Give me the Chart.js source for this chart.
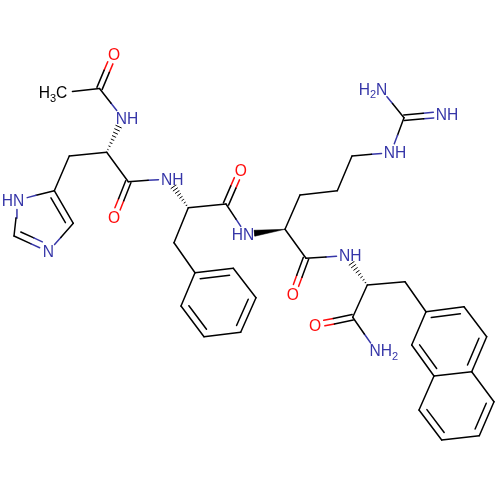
<!DOCTYPE html>
<html>
<head>
<meta charset="utf-8">
<style>
  html, body { margin: 0; padding: 0; background: #fff; }
  canvas { display: block; }
</style>
<script src="https://cdn.jsdelivr.net/npm/chart.js@4"></script>
</head>
<body>
<canvas id="myChart" width="500" height="500"></canvas>
<script>
// Atom positions
const atomElement = ["C","C","O","N","C","C","C","O","N","C","C","N","C","N","C","C","O","C","C","C","C","C","C","C","N","C","C","O","C","C","C","N","C","N","N","N","C","C","O","N","C","C","C","C","C","C","C","C","C","C","C"];
const atomX = [63,99.5,114,122.6,106.7,69.3,128.3,114,168,54.3,73.3,48.3,14,18,188.3,226,240.7,174,195,233.3,256,240.7,204,181,246,285,306,292.7,300,337.3,352,391,404,381,443,346,367.3,352.7,315,376,405,426,464,486.7,471.7,434,411.7,494,479.3,441.7,419];
const atomY = [92.6,88.5,54,118,152.3,156,181.7,217.7,179,190.7,223.3,251.7,236,200,207.7,204,170,242.7,272.7,268.3,297.7,332.3,336.7,306,234.3,229.3,258.3,294.3,195,190.7,156,152.7,117.7,89.3,114.3,255.7,285,317.3,325,350.7,281.7,311.7,306.7,336.7,371.7,376,345,401.7,435.7,440,410];

// Bonds. Kind: 1 single, 2 double, 3 double inside a ring, 4 wedge, 5 hashed wedge
const bondFrom = [0,1,1,4,4,4,5,6,6,9,10,11,12,13,14,14,14,15,15,17,18,19,20,21,22,23,25,25,25,26,26,28,29,30,31,32,32,36,36,36,37,37,40,41,42,43,44,45,46,44,47,48,49,50];
const bondTo   = [1,2,3,3,5,6,9,7,8,10,11,12,13,9,8,15,17,16,24,18,19,20,21,22,23,18,24,26,28,27,35,29,30,31,32,33,34,35,37,40,38,39,41,42,43,44,45,46,41,47,48,49,50,45];
const bondKind = [1,2,1,5,1,1,1,2,1,3,1,3,1,1,5,1,1,2,1,1,3,1,3,1,3,1,4,1,1,2,1,1,1,1,1,1,2,5,1,1,2,1,1,3,1,3,1,3,1,1,3,1,3,1];

const rings = [[9,10,11,12,13],[18,19,20,21,22,23],[41,42,43,44,45,46],[44,47,48,49,50,45]];

// Text labels
const labelText = ["H_3C","O","NH","O","NH","HN","N","O","HN","O","NH","H_2N","NH","NH","O","NH_2"];
const labelX = [53,114,127,114,172.2,13,48.3,240.7,243,292.7,395,373,447,350.2,315,383.8];
const labelY = [92.7,54,118,217.7,179,200,251.7,170,234.3,294.3,152.7,89.3,114.3,255.7,325,350.7];

const elementColor = { C: "#000000", N: "#3636a8", O: "#ff0d0d" };
const lineW = 1.5;
const gap = 9.5;

const datasets = [];

function addLine(points, color, width) {
  datasets.push({
    data: points,
    showLine: true,
    borderColor: color,
    borderWidth: width,
    borderCapStyle: "round",
    pointRadius: 0,
    tension: 0,
  });
}

// one line, half in each atom's colour, pulled back from labelled atoms
function addBond(ax, ay, bx, by, ea, eb, shorten) {
  const len = Math.hypot(bx - ax, by - ay);
  const ux = (bx - ax) / len;
  const uy = (by - ay) / len;
  const ta = Math.max(ea === "C" ? 0 : gap, shorten);
  const tb = Math.max(eb === "C" ? 0 : gap, shorten);
  const mid = { x: (ax + bx) / 2, y: (ay + by) / 2 };
  const start = { x: ax + ux * ta, y: ay + uy * ta };
  const end = { x: bx - ux * tb, y: by - uy * tb };
  if (ea === eb) {
    addLine([start, end], elementColor[ea], lineW);
  } else {
    addLine([start, mid], elementColor[ea], lineW);
    addLine([mid, end], elementColor[eb], lineW);
  }
}

bondFrom.forEach((a, i) => {
  const b = bondTo[i];
  const kind = bondKind[i];
  const ax = atomX[a], ay = atomY[a], bx = atomX[b], by = atomY[b];
  const len = Math.hypot(bx - ax, by - ay);
  const nx = -(by - ay) / len;
  const ny = (bx - ax) / len;
  if (kind === 1) {
    if (a === 0) {
      // methyl label: the bond stops short of the C
      const t = gap / len;
      addLine([{ x: ax + (bx - ax) * t, y: ay + (by - ay) * t }, { x: bx, y: by }], "#000000", lineW);
    } else {
      addBond(ax, ay, bx, by, atomElement[a], atomElement[b], 0);
    }
  } else if (kind === 2) {
    [-2.8, 2.8].forEach((d) => {
      addBond(ax + nx * d, ay + ny * d, bx + nx * d, by + ny * d, atomElement[a], atomElement[b], 0);
    });
  } else if (kind === 3) {
    addBond(ax, ay, bx, by, atomElement[a], atomElement[b], 0);
    const ring = rings.find((r) => r.includes(a) && r.includes(b));
    const cx = ring.reduce((s, k) => s + atomX[k], 0) / ring.length;
    const cy = ring.reduce((s, k) => s + atomY[k], 0) / ring.length;
    const side = nx * (cx - ax) + ny * (cy - ay) > 0 ? 1 : -1;
    const d = 6.5 * side;
    addBond(ax + nx * d, ay + ny * d, bx + nx * d, by + ny * d, atomElement[a], atomElement[b], 4.5);
  } else if (kind === 4) {
    const t = 1 - gap * 0.9 / len;
    const ex = ax + (bx - ax) * t, ey = ay + (by - ay) * t;
    datasets.push({
      data: [
        { x: ax, y: ay },
        { x: ex + nx * 3, y: ey + ny * 3 },
        { x: ex - nx * 3, y: ey - ny * 3 },
        { x: ax, y: ay },
      ],
      showLine: true,
      fill: "shape",
      backgroundColor: "#000000",
      borderColor: "#000000",
      borderWidth: 0.5,
      pointRadius: 0,
      tension: 0,
    });
  } else if (kind === 5) {
    // a is the stereo centre (narrow end), b the N end
    const usable = len - gap;
    for (let s = 0; s < 8; s++) {
      const along = 3 + (s * (usable - 3)) / 7;
      const px = ax + ((bx - ax) * along) / len;
      const py = ay + ((by - ay) * along) / len;
      const half = (along / usable) * 3;
      addLine([
        { x: px + nx * half, y: py + ny * half },
        { x: px - nx * half, y: py - ny * half },
      ], "#000000", 1);
    }
  }
});

// Atom labels, drawn through the same scales as the bonds
const atomLabels = {
  id: "atomLabels",
  afterDatasetsDraw(chart) {
    const { ctx, scales } = chart;
    const big = "15.6px 'Liberation Sans'";
    const small = "11px 'Liberation Sans'";
    ctx.save();
    ctx.textBaseline = "alphabetic";
    ctx.textAlign = "left";
    labelText.forEach((text, i) => {
      const parts = text.split("_");
      let pieces = [];
      if (parts.length === 1) {
        pieces = [{ t: text, sub: false }];
      } else {
        pieces.push({ t: parts[0], sub: false });
        pieces.push({ t: parts[1][0], sub: true });
        if (parts[1].length > 1) pieces.push({ t: parts[1].slice(1), sub: false });
      }
      let width = 0;
      pieces.forEach((p) => {
        ctx.font = p.sub ? small : big;
        p.w = ctx.measureText(p.t).width;
        width += p.w;
      });
      let x = scales.x.getPixelForValue(labelX[i]) - width / 2;
      const y = scales.y.getPixelForValue(labelY[i]) + 5.5;
      ctx.fillStyle = text === "O" ? elementColor.O : text === "H_3C" ? elementColor.C : elementColor.N;
      pieces.forEach((p) => {
        ctx.font = p.sub ? small : big;
        ctx.fillText(p.t, x, p.sub ? y + 3.5 : y);
        x += p.w;
      });
    });
    ctx.restore();
  },
};

new Chart("myChart", {
  type: "scatter",
  data: { datasets: datasets },
  options: {
    responsive: false,
    animation: false,
    layout: { padding: 0 },
    plugins: {
      legend: { display: false },
      tooltip: { enabled: false },
    },
    scales: {
      x: { type: "linear", min: 0, max: 500, display: false },
      y: { type: "linear", min: 0, max: 500, reverse: true, display: false },
    },
  },
  plugins: [atomLabels],
});
</script>
</body>
</html>
